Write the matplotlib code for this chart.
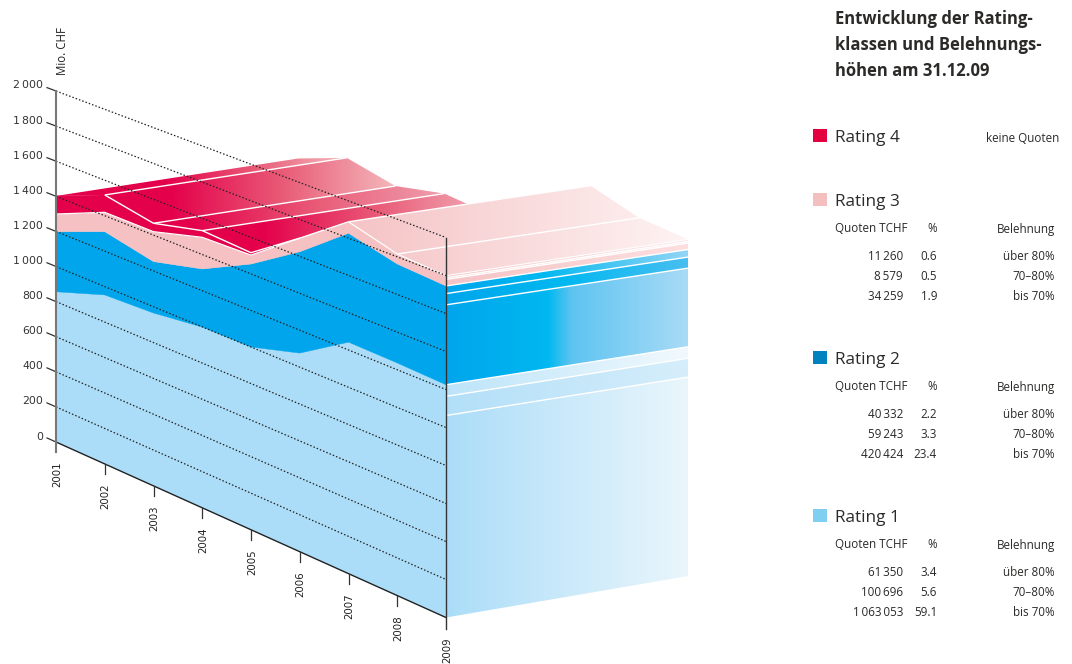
import numpy as np
import matplotlib
matplotlib.use("Agg")
import matplotlib.pyplot as plt
from matplotlib.colors import LinearSegmentedColormap, to_rgb
from matplotlib.patches import Polygon, Rectangle

plt.rcParams["font.family"] = ["Open Sans", "DejaVu Sans"]

# ---- data -------------------------------------------------------------
years = [2001, 2002, 2003, 2004, 2005, 2006, 2007, 2008, 2009]
axis_ticks = [0, 200, 400, 600, 800, 1000, 1200, 1400, 1600, 1800, 2000]

# portfolio per rating class, Mio. CHF
rating1 = [856, 953, 965, 999, 1000, 1076, 1242, 1236, 1225]
rating2 = [342, 357, 287, 321, 454, 549, 584, 526, 520]
rating3 = [101, 109, 167, 175, 49, 74, 62, 53, 54]
rating4 = [103, 98, 47, 37, 13, 0, 0, 0, 0]

# quotas at year end 2009 (TCHF), by loan-to-value band
ltv_bands = ["über 80%", "70–80%", "bis 70%"]
quota1 = [61350, 100696, 1063053]
quota2 = [40332, 59243, 420424]
quota3 = [11260, 8579, 34259]
share1 = ["3.4", "5.6", "59.1"]
share2 = ["2.2", "3.3", "23.4"]
share3 = ["0.6", "0.5", "1.9"]

title_lines = ["Entwicklung der Rating-", "klassen und Belehnungs-", "höhen am 31.12.09"]

# ---- colours ----------------------------------------------------------
RED, PINK, BLUE, SKY = "#E4004B", "#F5C1C3", "#00A5EC", "#ABDDF8"
PALE_RED = "#F4BABD"
WHITE_LW = 1.0

# ---- oblique projection of (year index, Mio. CHF, depth 0..1) ----------
def project(t, v, d=0.0):
    t, v = np.asarray(t, float), np.asarray(v, float)
    x = 56 + 48.75 * t + 242 * d
    y = 442 + 21.94 * t - v * (0.1755 + 0.0018125 * t) - d * (41.5 - v * 0.0029)
    return x, y


fig = plt.figure(figsize=(10.72, 6.64), dpi=100)
ax = fig.add_axes([0, 0, 1, 1])
ax.set_xlim(0, 1072)
ax.set_ylim(664, 0)
ax.axis("off")

idx = np.arange(len(years))
top1 = np.array(rating1, float)
top2 = top1 + rating2
top3 = top2 + rating3
top4 = top3 + rating4


def gradient_poly(pts, stops, z):
    """Fill a polygon with a horizontal gradient; stops = [(x, colour), ...]."""
    pts = np.array(pts, float)
    stops = list(stops)
    if pts[:, 0].min() < stops[0][0]:
        stops.insert(0, (pts[:, 0].min() - 1, stops[0][1]))
    if pts[:, 0].max() > stops[-1][0]:
        stops.append((pts[:, 0].max() + 1, stops[-1][1]))
    xs = [s[0] for s in stops]
    x0, x1 = xs[0], xs[-1]
    cmap = LinearSegmentedColormap.from_list(
        "g", [((x - x0) / (x1 - x0), to_rgb(c)) for x, c in stops], N=512)
    im = ax.imshow(np.linspace(0, 1, 512)[None, :], cmap=cmap, vmin=0, vmax=1,
                   extent=(x0, x1, pts[:, 1].max() + 1, pts[:, 1].min() - 1),
                   aspect="auto", interpolation="bilinear", zorder=z)
    im.set_clip_path(Polygon(pts, closed=True, transform=ax.transData))
    return im


def solid_poly(xs, y_upper, y_lower, colour, z):
    pts = np.r_[np.c_[xs, y_upper], np.c_[xs, y_lower][::-1]]
    ax.add_patch(Polygon(pts, closed=True, fc=colour, ec=colour, lw=0.3, zorder=z))


def facet(t0, t1, values, stops, z):
    x0, y0 = project(t0, values[t0])
    x1, y1 = project(t1, values[t1])
    bx1, by1 = project(t1, values[t1], 1)
    bx0, by0 = project(t0, values[t0], 1)
    gradient_poly([(x0, y0), (x1, y1), (bx1, by1), (bx0, by0)], stops, z)


def white(xs, ys, z, lw=WHITE_LW, alpha=1.0):
    ax.plot(xs, ys, color="white", lw=lw, alpha=alpha, zorder=z,
            solid_capstyle="butt", solid_joinstyle="miter")


# ---- receding top surface of rating 4 ---------------------------------
red_ramps = [(165, 348, PALE_RED), (170, 397, PALE_RED), (190, 445, "#EF9FAE"),
             (262, 495, "#F2B0BA"), (262, 495, "#F2B0BA")]
for i, (xa, xb, pale) in enumerate(red_ramps):
    mid_x = xa + 0.5 * (xb - xa)
    facet(i, i + 1, top4, [(xa, RED), (mid_x, "#E95C78"), (xb, pale)], 2 + 0.01 * i)
for i in (1, 2, 3):
    xf, yf = project(i, top4[i])
    xb, yb = project(i, top4[i], 1)
    white([xf, xb], [yf, yb], 3)

# ---- receding top surface of rating 3 (after rating 4 has run out) ----
pink_stops = [(348, "#F5C3C5"), (688, "#FEF3F3")]
for i in (5, 6, 7):
    facet(i, i + 1, top3, pink_stops, 4)
for i in (6, 7):
    xf, yf = project(i, top3[i])
    xb, yb = project(i, top3[i], 1)
    white([xf, xb], [yf, yb], 5)

# ---- side wall at 2009: the stack split by quota band ------------------
last = idx[-1]
wall = [
    (0, quota1[2], [(446, SKY), (688, "#EAF6FC")]),
    (quota1[2], quota1[1], [(446, "#B2DFF8"), (688, "#D6EEFB")]),
    (quota1[2] + quota1[1], quota1[0], [(446, "#BCE4F9"), (688, "#F1F9FE")]),
]
base = sum(quota1)
wall += [
    (base, quota2[2], [(446, BLUE), (548, "#00B8F0"), (572, "#5FC4F1"), (688, "#A9DBF6")]),
    (base + quota2[2], quota2[1], [(446, BLUE), (560, "#00B8F0"), (688, "#48BEF0")]),
    (base + quota2[2] + quota2[1], quota2[0], [(446, BLUE), (540, "#00B8F0"), (688, "#93D5F5")]),
]
base += sum(quota2)
wall += [
    (base, quota3[2], [(446, "#F5C3C5"), (688, "#FDDFE0")]),
    (base + quota3[2], quota3[1], [(446, "#F5C3C5"), (688, "#FDE6E6")]),
    (base + quota3[2] + quota3[1], quota3[0], [(446, "#F5C3C5"), (688, "#FDE6E6")]),
]
total = sum(quota1) + sum(quota2) + sum(quota3)
for low, amount, stops in wall:
    v0, v1 = low / 1000, (low + amount) / 1000
    xa, ya0 = project(last, v0, 0)
    xb, yb0 = project(last, v0, 1)
    _, ya1 = project(last, v1, 0)
    _, yb1 = project(last, v1, 1)
    gradient_poly([(xa, ya0), (xb, yb0), (xb, yb1), (xa, ya1)], stops, 6)
    if low > 0:
        white([xa, xb], [ya0, yb0], 7, lw=1.0 if amount > 5000 else 0.8)
    if low + amount == total:
        white([xa, xb], [ya1, yb1], 7, lw=0.8)

# ---- front face -------------------------------------------------------
xf = project(idx, 0)[0]
ybase = project(idx, 0)[1]
y1 = project(idx, top1)[1]
y2 = project(idx, top2)[1]
y3 = project(idx, top3)[1]
y4 = project(idx, top4)[1]
solid_poly(xf, ybase, y1, SKY, 8)
solid_poly(xf, y1, y2, BLUE, 8)
solid_poly(xf, y2, y3, PINK, 8)
solid_poly(xf[:6], y3[:6], y4[:6], RED, 8)
white(xf[:7], y3[:7], 9, lw=0.9)
white(xf[1:6], y4[1:6], 9, lw=1.0)
white(xf[6:], y3[6:], 9, lw=0.9)

# ---- grid lines, axes and tick labels ---------------------------------
for v in axis_ticks:
    xa, ya = project(0, v)
    xb, yb = project(last, v)
    if v == 0:
        ax.plot([xa, xb], [ya, yb], color="#222222", lw=1.0, zorder=10)
    else:
        ax.plot([xa, xb], [ya, yb], color="#222222", lw=0.9, zorder=10,
                ls=(0, (1.2, 1.6)))
    slope = (yb - ya) / (xb - xa)
    ax.plot([xa - 9, xa], [ya - 9 * slope, ya], color="#333333", lw=0.9, zorder=10)
    ax.text(43, ya - 5.5, f"{v:,}".replace(",", "\u2009"), ha="right", va="center",
            fontsize=7.8, color="#333333", family="DejaVu Sans")

xa, ya = project(0, 0)
_, ytop = project(0, 2000)
ax.plot([xa, xa], [ytop, ya + 10], color="#777777", lw=1.5, zorder=11)
xb, yb = project(last, 0)
_, ytop = project(last, 2000)
ax.plot([xb, xb], [ytop, yb + 11], color="#333333", lw=1.0, zorder=11)

for t, yr in zip(idx, years):
    x, y = project(t, 0)
    if 0 < t < last:
        ax.plot([x, x], [y, y + 10], color="#333333", lw=0.9, zorder=10)
    ax.text(x + 1, y + 32.5, str(yr), rotation=90, ha="center", va="center",
            fontsize=7.4, color="#222222", clip_on=False, family="DejaVu Sans")

ax.text(62, 75, "Mio. CHF", rotation=90, ha="center", va="bottom", fontsize=8.3,
        color="#222222")

# ---- right-hand panel -------------------------------------------------
TXT = "#2B2A29"
for line, y in zip(title_lines, (23.5, 50, 76.5)):
    ax.text(835, y, line, fontsize=12.0, fontweight="bold", color=TXT, va="baseline")


def legend_head(y, colour, label):
    ax.add_patch(Rectangle((813, y), 13.5, 13, fc=colour, ec="none"))
    ax.text(835, y + 12.5, label, fontsize=12.3, color=TXT, va="baseline")


def fmt(n):
    return f"{n:,}".replace(",", "\u2009")


def quota_table(y_head, quotas, shares):
    kw = dict(fontsize=8.4, color=TXT, va="baseline")
    ax.text(835, y_head + 4.5, "Quoten TCHF", ha="left", **kw)
    ax.text(937, y_head + 4.5, "%", ha="right", **kw)
    ax.text(1055, y_head + 4.5, "Belehnung", ha="right", **kw)
    for k in range(3):
        y = y_head + 28 + 20 * k + 4.5
        ax.text(903, y, fmt(quotas[k]), ha="right", **kw)
        ax.text(937, y, shares[k], ha="right", **kw)
        ax.text(1055, y, ltv_bands[k], ha="right", **kw)


legend_head(129, "#E2003F", "Rating 4")
ax.text(1059, 142, "keine Quoten", ha="right", va="baseline", fontsize=8.4, color=TXT)
legend_head(193, "#F4C0BF", "Rating 3")
quota_table(228, quota3, share3)
legend_head(351, "#0082BF", "Rating 2")
quota_table(386, quota2, share2)
legend_head(509, "#7FCFF3", "Rating 1")
quota_table(544, quota1, share1)

ax.set_xlim(0, 1072)
ax.set_ylim(664, 0)
fig.savefig("out.png", dpi=100)
